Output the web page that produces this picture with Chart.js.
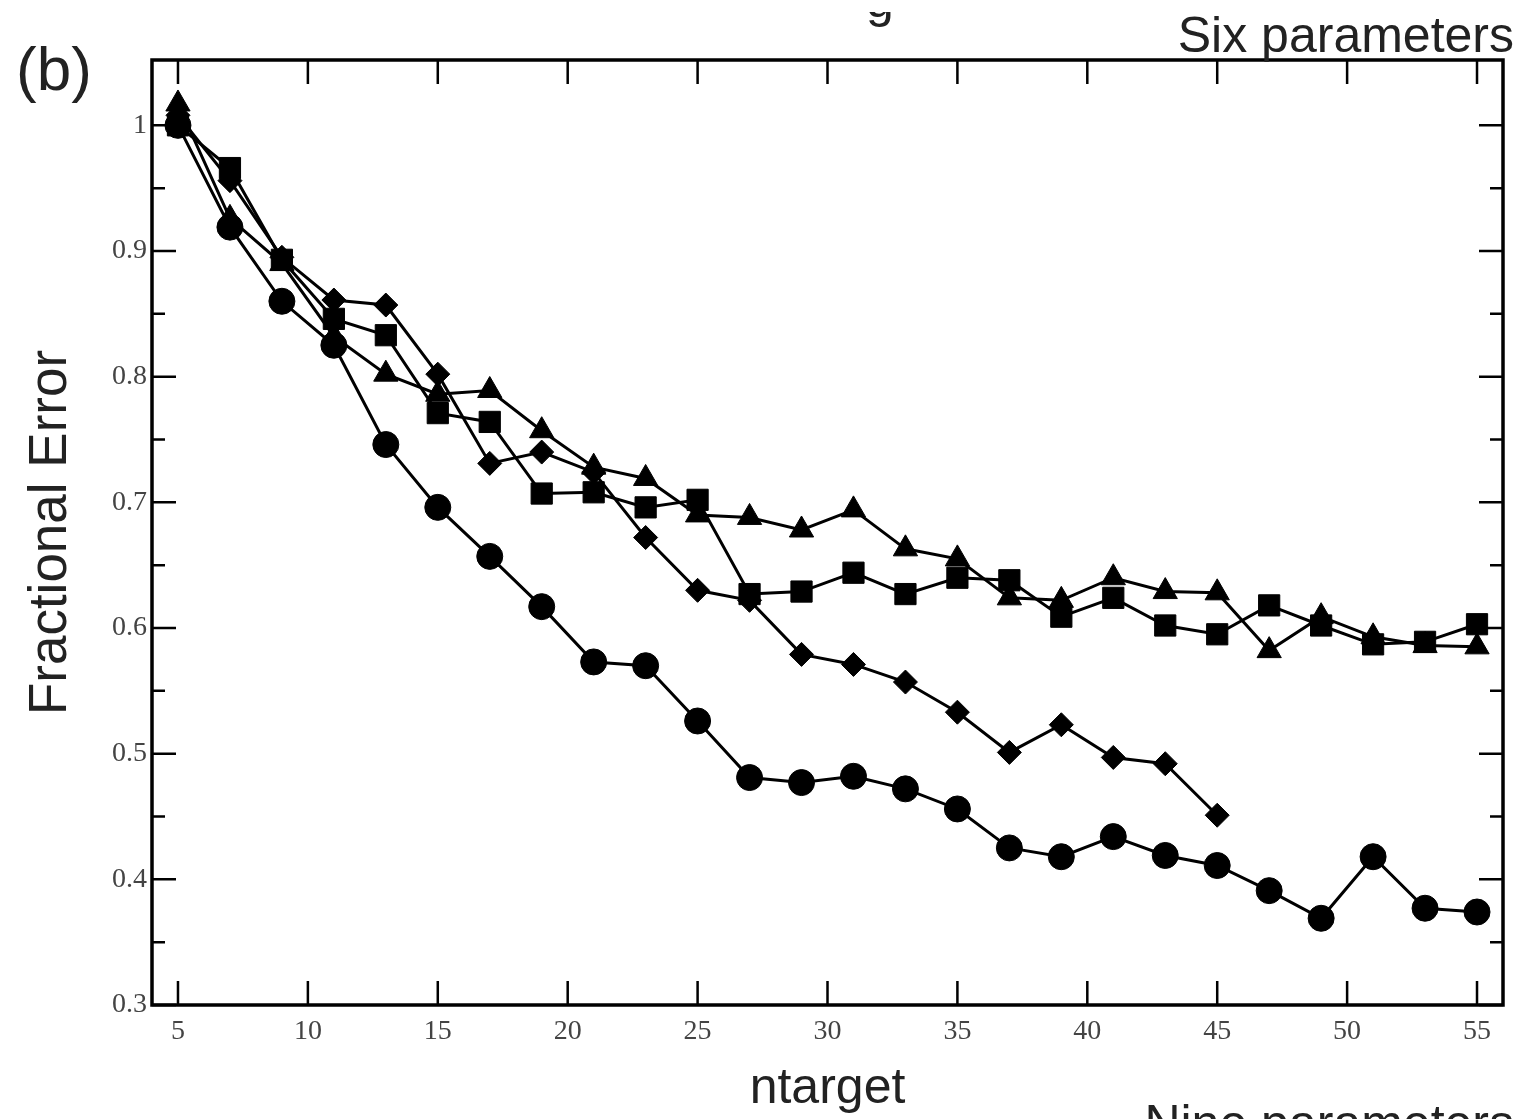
<!DOCTYPE html>
<html lang="en">
<head>
    <meta charset="UTF-8">
    <title>Fractional Error vs ntarget</title>
    <style>
        body { margin: 0; background: #fff; }
        #wrap { width: 1525px; height: 1119px; position: relative; }
    </style>
</head>
<body>
<div id="wrap"><canvas id="errChart"></canvas></div>

<script src="https://cdn.jsdelivr.net/npm/chart.js@4.4.1/dist/chart.umd.min.js"></script>

<script>
  const NTARGET = [5, 7, 9, 11, 13, 15, 17, 19, 21, 23, 25, 27, 29, 31, 33, 35, 37, 39, 41, 43, 45, 47, 49, 51, 53, 55];

  const CIRCLES = [1.0, 0.919, 0.86, 0.825, 0.746, 0.696, 0.657, 0.617, 0.573, 0.570, 0.526, 0.481, 0.477,
    0.482, 0.472, 0.456, 0.425, 0.418, 0.434, 0.419, 0.411, 0.391, 0.369, 0.418, 0.377, 0.374];
  // diamonds stop at ntarget = 45
  const DIAMONDS = [1.008, 0.956, 0.895, 0.861, 0.857, 0.802, 0.731, 0.740, 0.724, 0.672, 0.630, 0.622, 0.579,
    0.571, 0.557, 0.533, 0.501, 0.523, 0.497, 0.492, 0.451];
  const SQUARES = [1.0, 0.966, 0.893, 0.846, 0.833, 0.771, 0.764, 0.707, 0.708, 0.696, 0.702, 0.627, 0.629,
    0.644, 0.627, 0.640, 0.638, 0.609, 0.624, 0.602, 0.595, 0.618, 0.602, 0.587, 0.589, 0.603];
  const TRIANGLES = [1.017, 0.926, 0.890, 0.832, 0.802, 0.786, 0.789, 0.757, 0.728, 0.719, 0.690, 0.688, 0.678,
    0.694, 0.663, 0.655, 0.624, 0.622, 0.640, 0.629, 0.628, 0.582, 0.609, 0.593, 0.586, 0.585];

  const X_TICKS = [5, 10, 15, 20, 25, 30, 35, 40, 45, 50, 55];
  const Y_TICKS = [0.3, 0.4, 0.5, 0.6, 0.7, 0.8, 0.9, 1.0];
  const Y_LABELS = ['0.3', '0.4', '0.5', '0.6', '0.7', '0.8', '0.9', '1'];
  const Y_MINOR = [0.35, 0.45, 0.55, 0.65, 0.75, 0.85, 0.95];

  const SANS = '"Liberation Sans", Arial, sans-serif';
  const SERIF = '"Liberation Serif", "Times New Roman", serif';

  function toPoints(ys) {
    return ys.map((y, i) => ({x: NTARGET[i], y: y}));
  }

  function series(ys, style, radius) {
    return {
      data: toPoints(ys),
      borderColor: '#000',
      backgroundColor: '#000',
      borderWidth: 3,
      pointStyle: style,
      pointRadius: radius,
      pointBorderWidth: 1,
      tension: 0,
      clip: false
    };
  }

  // frame, inward ticks on all four sides, and the stray panel texts
  const framePlugin = {
    id: 'frame',
    afterDraw(chart) {
      const {ctx, chartArea: a, scales: {x, y}} = chart;
      ctx.save();
      ctx.strokeStyle = '#000';
      ctx.lineWidth = 2.5;
      ctx.beginPath();
      X_TICKS.forEach((v) => {
        const px = x.getPixelForValue(v);
        ctx.moveTo(px, a.bottom); ctx.lineTo(px, a.bottom - 24);
        ctx.moveTo(px, a.top); ctx.lineTo(px, a.top + 24);
      });
      Y_TICKS.forEach((v) => {
        const py = y.getPixelForValue(v);
        ctx.moveTo(a.left, py); ctx.lineTo(a.left + 24, py);
        ctx.moveTo(a.right, py); ctx.lineTo(a.right - 24, py);
      });
      Y_MINOR.forEach((v) => {
        const py = y.getPixelForValue(v);
        ctx.moveTo(a.left, py); ctx.lineTo(a.left + 13, py);
        ctx.moveTo(a.right, py); ctx.lineTo(a.right - 13, py);
      });
      ctx.stroke();
      ctx.lineWidth = 3.5;
      ctx.strokeRect(a.left, a.top, a.width, a.height);

      ctx.fillStyle = '#222';
      ctx.textBaseline = 'alphabetic';
      ctx.font = '62px ' + SANS;
      ctx.textAlign = 'left';
      ctx.fillText('(b)', 16, 90);
      ctx.font = '50px ' + SANS;
      ctx.textAlign = 'right';
      ctx.fillText('Six parameters', 1514, 52);
      ctx.fillText('Nine parameters', 1514, 1140);
      // only the tail of the cut-off heading shows above the frame
      ctx.save();
      ctx.beginPath();
      ctx.rect(850, 12, 60, 20);
      ctx.clip();
      ctx.textAlign = 'center';
      ctx.fillText('g', 880, 17);
      ctx.restore();
      ctx.restore();
    }
  };

  const config = {
    type: 'line',
    data: {
      datasets: [
        series(CIRCLES, 'circle', 13),
        series(DIAMONDS, 'rectRot', 12),
        series(SQUARES, 'rect', 15),
        series(TRIANGLES, 'triangle', 14)
      ]
    },
    options: {
      responsive: true,
      maintainAspectRatio: false,
      animation: false,
      layout: {padding: {top: 60, right: 22, left: 0, bottom: 0}},
      plugins: {
        legend: {display: false},
        tooltip: {enabled: false}
      },
      scales: {
        x: {
          type: 'linear',
          min: 4,
          max: 56,
          grid: {display: false, drawTicks: false},
          border: {display: false},
          afterBuildTicks: (scale) => { scale.ticks = X_TICKS.map((v) => ({value: v})); },
          afterFit: (scale) => { scale.height = 114; },
          ticks: {
            padding: 10,
            color: '#444',
            font: {family: SERIF, size: 28},
            maxRotation: 0,
            callback: (v) => String(v)
          },
          title: {
            display: true,
            text: 'ntarget',
            color: '#222',
            font: {family: SANS, size: 50},
            padding: {top: 0, bottom: 0}
          }
        },
        y: {
          type: 'linear',
          min: 0.3,
          max: 1.052,
          grid: {display: false, drawTicks: false},
          border: {display: false},
          afterBuildTicks: (scale) => { scale.ticks = Y_TICKS.map((v) => ({value: v})); },
          afterFit: (scale) => { scale.width = 152; },
          ticks: {
            padding: 5,
            color: '#444',
            font: {family: SERIF, size: 28},
            callback: (v, i) => Y_LABELS[i]
          },
          title: {
            display: true,
            text: 'Fractional Error',
            color: '#222',
            font: {family: SANS, size: 53},
            padding: {top: 20, bottom: 0}
          }
        }
      }
    },
    plugins: [framePlugin]
  };

  new Chart(document.getElementById('errChart'), config);
</script>
</body>
</html>
